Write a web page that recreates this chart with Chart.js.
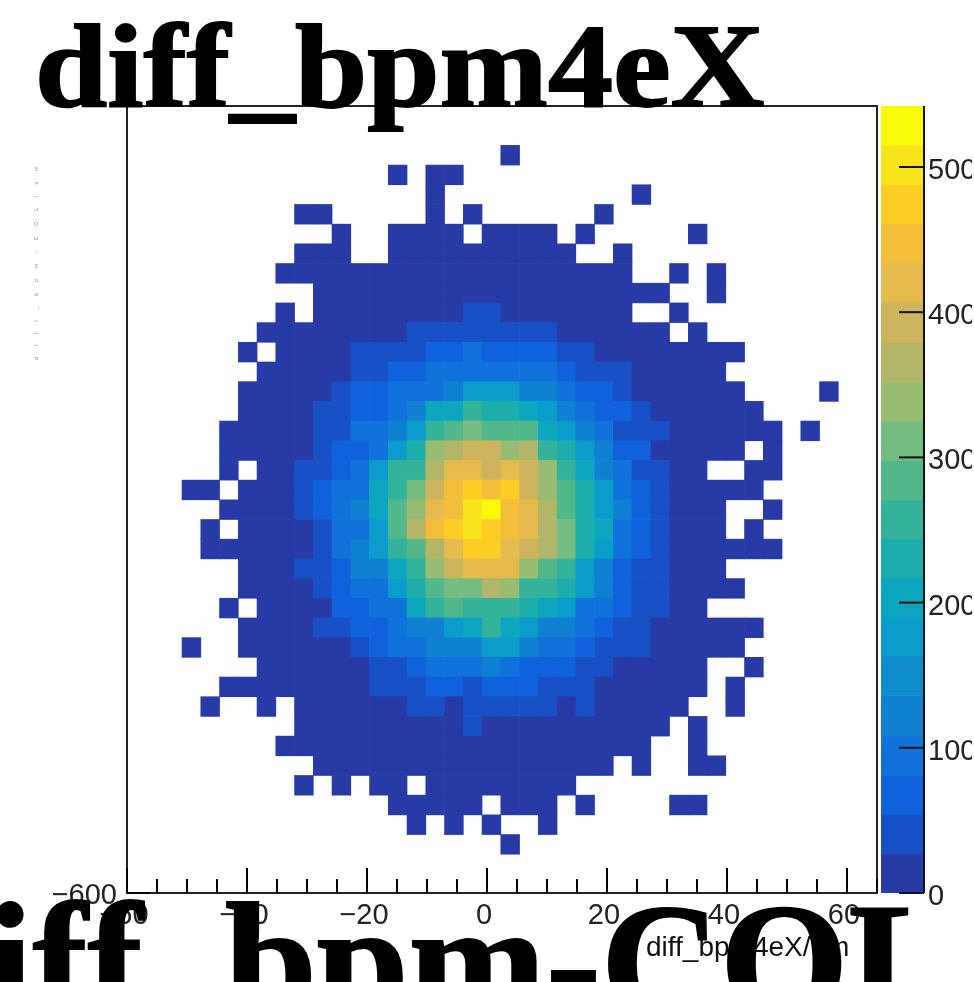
<!DOCTYPE html>
<html>
<head>
<meta charset="utf-8">
<script src="https://cdn.jsdelivr.net/npm/chart.js@4/dist/chart.umd.min.js"></script>
<style>
html, body { margin: 0; padding: 0; background: #fff; overflow: hidden; width: 974px; height: 982px; }
#stage { position: relative; width: 974px; height: 982px; overflow: hidden; filter: blur(0.5px); }
canvas { position: absolute; top: 0; }
#graph { left: 0; }
#palette { left: 874px; }
.title { position: absolute; font-family: "Liberation Serif", serif; font-weight: bold; color: #000; white-space: nowrap; line-height: 1; -webkit-text-stroke: 2px #000; }
#title { left: 35px; top: -3px; font-size: 130px; transform-origin: 0 109px; transform: scaleY(0.92); }
#nextTitle { left: -105px; top: 879px; font-size: 165px; }
#xLabel { position: absolute; left: 646px; top: 931px; font: 28px "Liberation Sans", sans-serif; color: #111; white-space: nowrap; }
#yLabel { position: absolute; left: 33px; top: 155px; font: 5px "Liberation Sans", sans-serif; letter-spacing: 11px; color: #888; white-space: nowrap; transform-origin: 0 0; transform: translateY(205px) rotate(-90deg); }
</style>
</head>
<body>
<div id="stage">
    <canvas id="graph" width="974" height="982"></canvas>
    <canvas id="palette" width="98" height="982"></canvas>
    <div id="xLabel">diff_bpm4eX/um</div>
    <div id="yLabel">diff_bpm-COL/um</div>
    <div id="title" class="title">diff_bpm4eX</div>
    <div id="nextTitle" class="title">diff_bpm-COL</div>
</div>
<script>
// bins: 40 x 40, rows go from top to bottom
const xStart = -60.2, xStep = 3.125;
const yStart = 651, yStep = 31.3;

const counts = [
    [0,0,0,0,0,0,0,0,0,0, 0,0,0,0,0,0,0,0,0,0, 0,0,0,0,0,0,0,0,0,0, 0,0,0,0,0,0,0,0,0,0],
    [0,0,0,0,0,0,0,0,0,0, 0,0,0,0,0,0,0,0,0,0, 0,0,0,0,0,0,0,0,0,0, 0,0,0,0,0,0,0,0,0,0],
    [0,0,0,0,0,0,0,0,0,0, 0,0,0,0,0,0,0,0,0,0, 1,0,0,0,0,0,0,0,0,0, 0,0,0,0,0,0,0,0,0,0],
    [0,0,0,0,0,0,0,0,0,0, 0,0,0,0,1,0,1,2,0,0, 0,0,0,0,0,0,0,0,0,0, 0,0,0,0,0,0,0,0,0,0],
    [0,0,0,0,0,0,0,0,0,0, 0,0,0,0,0,0,2,0,0,0, 0,0,0,0,0,0,0,1,0,0, 0,0,0,0,0,0,0,0,0,0],
    [0,0,0,0,0,0,0,0,0,1, 1,0,0,0,0,0,2,0,1,0, 0,0,0,0,0,1,0,0,0,0, 0,0,0,0,0,0,0,0,0,0],
    [0,0,0,0,0,0,0,0,0,0, 0,2,0,0,2,2,3,2,0,2, 3,2,2,0,1,0,0,0,0,0, 1,0,0,0,0,0,0,0,0,0],
    [0,0,0,0,0,0,0,0,0,2, 2,2,0,0,3,4,5,5,4,4, 5,4,3,2,0,0,1,0,0,0, 0,0,0,0,0,0,0,0,0,0],
    [0,0,0,0,0,0,0,0,1,2, 2,3,3,4,6,7,8,8,9,9, 8,8,7,6,4,3,2,0,0,1, 0,1,0,0,0,0,0,0,0,0],
    [0,0,0,0,0,0,0,0,0,0, 3,4,6,7,9,11,12,14,15,15, 14,13,11,9,7,5,3,2,1,0, 0,1,0,0,0,0,0,0,0,0],
    [0,0,0,0,0,0,0,0,1,0, 4,6,8,11,14,17,20,24,40,40, 25,20,16,12,8,6,3,0,0,1, 0,0,0,0,0,0,0,0,0,0],
    [0,0,0,0,0,0,0,2,2,3, 5,8,12,16,21,40,40,40,40,40, 40,40,40,20,14,9,6,4,2,0, 1,0,0,0,0,0,0,0,0,0],
    [0,0,0,0,0,0,1,0,2,4, 7,11,40,40,40,40,67,67,94,67, 67,67,67,40,40,17,11,7,4,3, 2,1,1,0,0,0,0,0,0,0],
    [0,0,0,0,0,0,0,2,3,5, 9,15,40,40,67,67,94,94,94,94, 94,94,94,67,40,40,40,10,6,4, 2,1,0,0,0,0,0,0,0,0],
    [0,0,0,0,0,0,2,3,5,8, 13,40,67,67,94,94,94,121,175,175, 175,121,121,94,67,67,40,14,9,5, 3,2,1,0,0,0,0,1,0,0],
    [0,0,0,0,0,0,2,4,6,10, 40,40,67,67,94,121,202,202,256,229, 229,202,175,121,94,67,67,40,12,7, 4,3,2,1,0,0,0,0,0,0],
    [0,0,0,0,0,1,3,5,8,13, 40,40,94,94,121,175,256,283,310,283, 283,283,202,175,121,94,40,40,40,9, 6,3,2,1,1,0,1,0,0,0],
    [0,0,0,0,0,1,3,6,9,15, 40,67,67,94,175,229,337,364,391,391, 337,364,256,229,175,121,67,67,18,11, 6,4,2,0,1,0,0,0,0,0],
    [0,0,0,0,0,2,0,6,11,40, 40,67,94,175,256,256,364,418,418,391, 418,391,337,256,202,121,94,40,40,12, 7,0,0,1,1,0,0,0,0,0],
    [0,0,0,1,1,0,4,7,12,40, 67,94,94,202,256,310,391,445,472,445, 472,391,337,283,229,175,94,67,40,13, 8,4,2,1,0,0,0,0,0,0],
    [0,0,0,0,0,2,4,7,12,40, 67,94,121,202,283,337,418,445,499,530, 445,418,364,283,229,175,121,67,40,13, 7,4,0,0,1,0,0,0,0,0],
    [0,0,0,0,1,0,4,7,12,19, 40,94,94,175,283,364,445,472,499,472, 445,418,364,310,229,202,94,67,40,12, 7,4,0,1,0,0,0,0,0,0],
    [0,0,0,0,1,2,3,6,11,18, 40,94,121,175,256,283,364,418,472,472, 418,391,364,310,229,175,94,67,40,12, 7,4,3,2,1,0,0,0,0,0],
    [0,0,0,0,0,0,3,6,10,40, 40,67,121,121,202,256,337,391,418,418, 418,337,283,256,175,121,67,40,40,11, 6,3,0,0,0,0,0,0,0,0],
    [0,0,0,0,0,0,2,5,9,15, 40,67,94,94,175,229,283,310,310,364, 337,256,256,229,175,121,67,40,40,10, 5,3,1,0,0,0,0,0,0,0],
    [0,0,0,0,0,1,0,4,8,13, 21,67,67,94,94,202,256,283,256,256, 256,229,202,175,94,94,67,40,40,8, 4,0,0,0,0,0,0,0,0,0],
    [0,0,0,0,0,0,2,3,6,11, 40,40,67,67,94,121,121,175,202,256, 202,175,121,121,94,67,40,40,12,7, 4,2,2,1,0,0,0,0,0,0],
    [0,0,0,1,0,0,1,3,5,9, 14,21,40,67,94,94,121,121,121,175, 175,121,94,94,67,40,40,40,10,6, 3,2,1,0,0,0,0,0,0,0],
    [0,0,0,0,0,0,0,2,4,7, 11,16,22,40,40,67,94,94,94,121, 94,67,67,67,40,40,15,10,7,4, 2,0,0,1,0,0,0,0,0,0],
    [0,0,0,0,0,1,1,2,3,5, 8,12,17,40,40,40,67,67,40,67, 67,67,40,40,40,17,12,8,5,3, 1,0,1,0,0,0,0,0,0,0],
    [0,0,0,0,1,0,0,1,0,3, 6,9,13,17,22,40,40,25,40,40, 40,40,40,26,40,13,9,6,3,2, 0,0,1,0,0,0,0,0,0,0],
    [0,0,0,0,0,0,0,0,0,2, 4,6,9,12,15,18,20,22,40,23, 21,18,15,12,9,6,4,3,2,0, 1,0,0,0,0,0,0,0,0,0],
    [0,0,0,0,0,0,0,0,1,1, 2,4,6,8,10,12,13,14,15,14, 13,12,10,8,6,4,3,2,0,0, 2,0,0,0,0,0,0,0,0,0],
    [0,0,0,0,0,0,0,0,0,0, 1,2,3,5,6,7,8,8,9,8, 8,7,5,4,3,2,0,1,0,0, 1,1,0,0,0,0,0,0,0,0],
    [0,0,0,0,0,0,0,0,0,1, 0,1,0,2,3,0,4,4,5,4, 4,3,2,1,0,0,0,0,0,0, 0,0,0,0,0,0,0,0,0,0],
    [0,0,0,0,0,0,0,0,0,0, 0,0,0,0,1,2,2,2,1,0, 2,1,1,0,1,0,0,0,0,1, 1,0,0,0,0,0,0,0,0,0],
    [0,0,0,0,0,0,0,0,0,0, 0,0,0,0,0,1,0,1,0,1, 0,0,1,0,0,0,0,0,0,0, 0,0,0,0,0,0,0,0,0,0],
    [0,0,0,0,0,0,0,0,0,0, 0,0,0,0,0,0,0,0,0,0, 1,0,0,0,0,0,0,0,0,0, 0,0,0,0,0,0,0,0,0,0],
    [0,0,0,0,0,0,0,0,0,0, 0,0,0,0,0,0,0,0,0,0, 0,0,0,0,0,0,0,0,0,0, 0,0,0,0,0,0,0,0,0,0],
    [0,0,0,0,0,0,0,0,0,0, 0,0,0,0,0,0,0,0,0,0, 0,0,0,0,0,0,0,0,0,0, 0,0,0,0,0,0,0,0,0,0]
];

const zLevels = [0,27,54,81,108,136,163,190,217,244,271,298,325,352,379,407,434,461,488,515,542];
const levelColors = ['#273aa5','#1650c4','#0f62dc','#1072da','#1080d2','#0e8ccc','#0a9dcc','#0ca6be',
    '#1dadab','#35b39a','#52b88c','#75bc82','#97bc72','#b2b668','#cfb45e','#e4bb4c','#f4be3a','#fdcd26','#f8e41a','#fbfa0a'];

function colorFor(v)
{
    let i = zLevels.findIndex(z => v < z) - 1;
    if (i < 0) i = levelColors.length - 1;
    return levelColors[i];
}

const minusSign = v => String(v).replace('-', '\u2212');
const tickFont = {family: '"Liberation Sans", sans-serif', size: 29};

const cells = [];
counts.forEach((row, r) => row.forEach((n, c) => {
    if (n > 0) {
        cells.push({
            x: xStart + (c + 0.5) * xStep,
            y: [yStart - (r + 1) * yStep, yStart - r * yStep],
            n: n
        });
    }
}));

// ticks go inwards and come in two lengths, so they are drawn here from the scales
function line(ctx, x1, y1, x2, y2)
{
    ctx.beginPath();
    ctx.moveTo(x1, y1);
    ctx.lineTo(x2, y2);
    ctx.stroke();
}

const frameAndTicks = {
    id: 'frameAndTicks',
    afterDraw(chart) {
        const {ctx, chartArea: a, scales} = chart;
        ctx.save();
        ctx.strokeStyle = '#222';
        ctx.lineWidth = 2;
        ctx.strokeRect(a.left, a.top, a.right - a.left, a.bottom - a.top);
        ctx.strokeStyle = '#000';
        scales.x.ticks.forEach(t => {
            if (t.value % 5) return;
            const px = scales.x.getPixelForValue(t.value);
            line(ctx, px, a.bottom, px, a.bottom - (t.value % 20 === 0 ? 25 : 14));
        });
        scales.y.ticks.forEach(t => {
            if (t.value % 50) return;
            const py = scales.y.getPixelForValue(t.value);
            line(ctx, a.left, py, a.left + (t.value % 200 === 0 ? 23 : 12), py);
        });
        ctx.restore();
    }
};

const paletteTicks = {
    id: 'paletteTicks',
    afterDraw(chart) {
        const {ctx, chartArea: a, scales} = chart;
        ctx.save();
        ctx.strokeStyle = '#111';
        ctx.lineWidth = 2;
        line(ctx, a.right, a.top, a.right, a.bottom);
        line(ctx, a.right - 25, a.bottom, a.right, a.bottom);
        scales.y.ticks.forEach(t => {
            if (t.value % 100 || t.value === 0) return;
            const py = scales.y.getPixelForValue(t.value);
            line(ctx, a.right - 25, py, a.right, py);
        });
        ctx.restore();
    }
};

new Chart(document.getElementById('graph').getContext('2d'), {
    type: 'bar',
    data: {
        datasets: [{
            data: cells,
            backgroundColor: c => colorFor(c.raw ? c.raw.n : 0),
            barPercentage: 1,
            categoryPercentage: 1
        }]
    },
    options: {
        responsive: false,
        animation: false,
        devicePixelRatio: 1,
        layout: {padding: {top: 106, right: 97}},
        scales: {
            x: {
                type: 'linear',
                offset: false,
                min: -60,
                max: 65,
                grid: {display: false, offset: false, drawTicks: false},
                border: {display: false},
                afterFit: s => { s.height = 89; },
                ticks: {
                    stepSize: 5,
                    autoSkip: false,
                    maxRotation: 0,
                    padding: 6,
                    color: '#222',
                    font: tickFont,
                    labelOffset: -3,
                    callback: v => (v % 20 === 0 ? minusSign(v) : '')
                }
            },
            y: {
                beginAtZero: false,
                min: -600,
                max: 651,
                grid: {display: false, drawTicks: false},
                border: {display: false},
                afterFit: s => { s.width = 127; },
                ticks: {
                    stepSize: 50,
                    autoSkip: false,
                    padding: 10,
                    color: '#222',
                    font: tickFont,
                    labelOffset: 3,
                    callback: v => (v % 200 === 0 ? minusSign(v) : '')
                }
            }
        },
        plugins: {legend: {display: false}, tooltip: {enabled: false}}
    },
    plugins: [frameAndTicks]
});

const paletteBars = levelColors.map((col, i) => ({x: 'z', y: [zLevels[i], zLevels[i + 1]]}));

new Chart(document.getElementById('palette').getContext('2d'), {
    type: 'bar',
    data: {
        labels: ['z'],
        datasets: [{
            data: paletteBars,
            backgroundColor: levelColors,
            barPercentage: 1,
            categoryPercentage: 1
        }]
    },
    options: {
        responsive: false,
        animation: false,
        devicePixelRatio: 1,
        layout: {padding: {top: 106, left: 7, bottom: 89}},
        scales: {
            x: {display: false},
            y: {
                position: 'right',
                beginAtZero: true,
                min: 0,
                max: 542,
                grid: {display: false, drawTicks: false},
                border: {display: false},
                afterFit: s => { s.width = 48; },
                ticks: {
                    stepSize: 100,
                    padding: 4,
                    color: '#222',
                    font: tickFont,
                    labelOffset: 4,
                    callback: v => (v % 100 === 0 ? v : '')
                }
            }
        },
        plugins: {legend: {display: false}, tooltip: {enabled: false}}
    },
    plugins: [paletteTicks]
});
</script>
</body>
</html>
